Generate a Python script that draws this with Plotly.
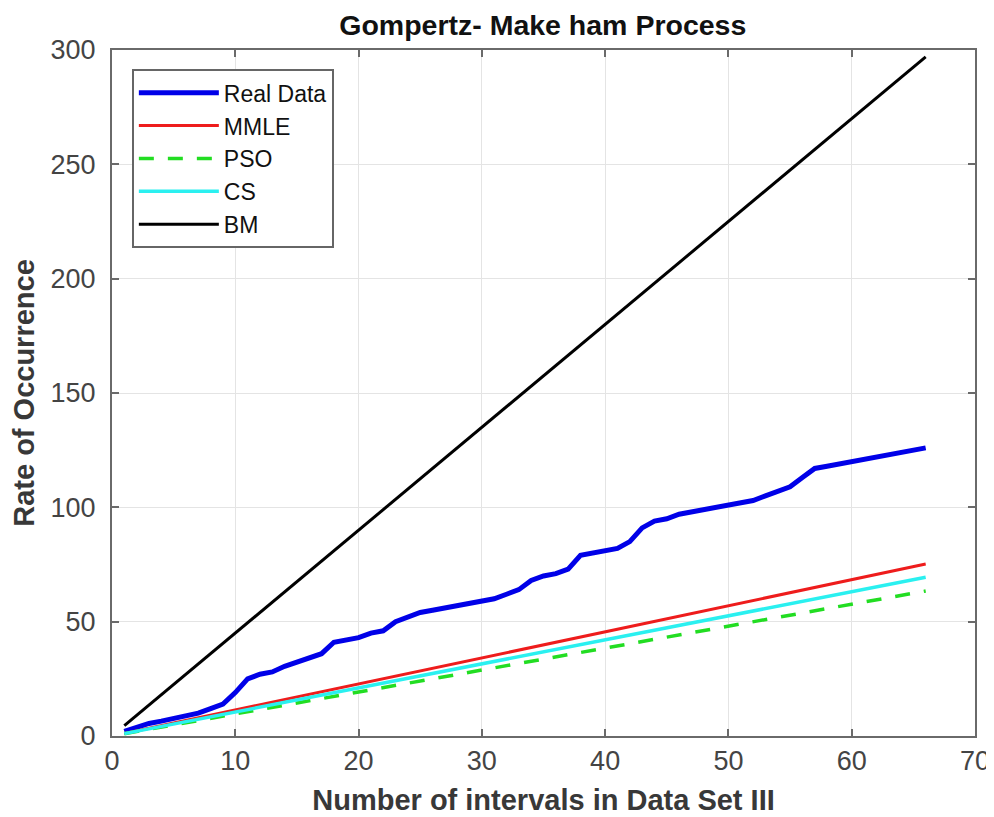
import plotly.graph_objects as go

# ---- data ----
x_real = list(range(1, 67))
y_real = [2, 4, 5.5, 6.5, 7.5, 8.5, 10, 12, 14, 19,
          25, 27, 28, 30.5, 32.5, 34, 36, 41, 42, 43,
          45, 46, 50, 52, 54, 55, 56, 57, 58, 59,
          60, 62, 64, 68, 70, 71, 73, 79, 80, 81,
          82, 85, 91, 94, 95, 97, 98, 99, 100, 101,
          102, 103, 105, 107, 109, 113, 117, 118, 119, 120,
          121, 122, 123, 124, 125, 126]

x_model = [1, 10, 20, 30, 40, 50, 60, 66]
y_mmle = [1.1, 11.4, 22.8, 34.2, 45.6, 57.0, 68.4, 75.2]
y_pso = [1.0, 9.6, 19.2, 28.8, 38.4, 48.0, 57.6, 63.4]
y_cs = [1.05, 10.5, 21.0, 31.5, 42.0, 52.5, 63.0, 69.4]
y_bm = [4.5, 45, 90, 135, 180, 225, 270, 297]

x_ticks = [0, 10, 20, 30, 40, 50, 60, 70]
y_ticks = [0, 50, 100, 150, 200, 250, 300]

fig = go.Figure()
series = [
    ("Real Data", x_real, y_real, "#0000e8", 5, "solid"),
    ("MMLE", x_model, y_mmle, "#ee1c1c", 3, "solid"),
    ("PSO", x_model, y_pso, "#22dd22", 3.5, "15px,14px"),
    ("CS", x_model, y_cs, "#2af0f0", 3.5, "solid"),
    ("BM", x_model, y_bm, "#000000", 3, "solid"),
]
for name, xs, ys, col, w, dash in series:
    fig.add_trace(go.Scatter(x=xs, y=ys, mode="lines", name=name, legendgroup=name,
                             line=dict(color=col, width=w, dash=dash)))

tick_font = dict(family="Liberation Sans, Arial", size=27, color="#444444")
title_font = dict(family="Liberation Sans, Arial", size=29, color="#383838")

axis_common = dict(showline=True, linecolor="#6a6a6a", linewidth=2, mirror="ticks",
                   ticks="inside", ticklen=7, tickcolor="#6a6a6a", tickwidth=1.5,
                   showgrid=True, gridcolor="#e4e4e4", gridwidth=1.2, zeroline=False,
                   tickfont=tick_font)

fig.update_layout(
    width=994, height=817,
    paper_bgcolor="white", plot_bgcolor="white",
    margin=dict(l=104, r=27, t=42, b=89),
    title=dict(text="<b>Gompertz- Make ham Process</b>", x=0.538, xanchor="center",
               y=0.979, yanchor="middle",
               font=dict(family="Liberation Sans, Arial", size=28.5, color="#111111")),
    xaxis=dict(range=[0, 70], tickvals=x_ticks, **axis_common,
               title=dict(text="<b>Number of intervals in Data Set III</b>", standoff=14,
                          font=title_font)),
    yaxis=dict(range=[0, 300], tickvals=y_ticks, **axis_common, ticklabelstandoff=9,
               title=dict(text="<b>Rate of Occurrence</b>", standoff=7,
                          font=title_font)),
    legend=dict(x=0.023, y=0.972, xanchor="left", yanchor="top",
                bgcolor="white", bordercolor="#666666", borderwidth=2,
                font=dict(family="Liberation Sans, Arial", size=23, color="#111111"),
                tracegroupgap=0, itemwidth=80),
    showlegend=True,
)

fig.write_html("out.html")
